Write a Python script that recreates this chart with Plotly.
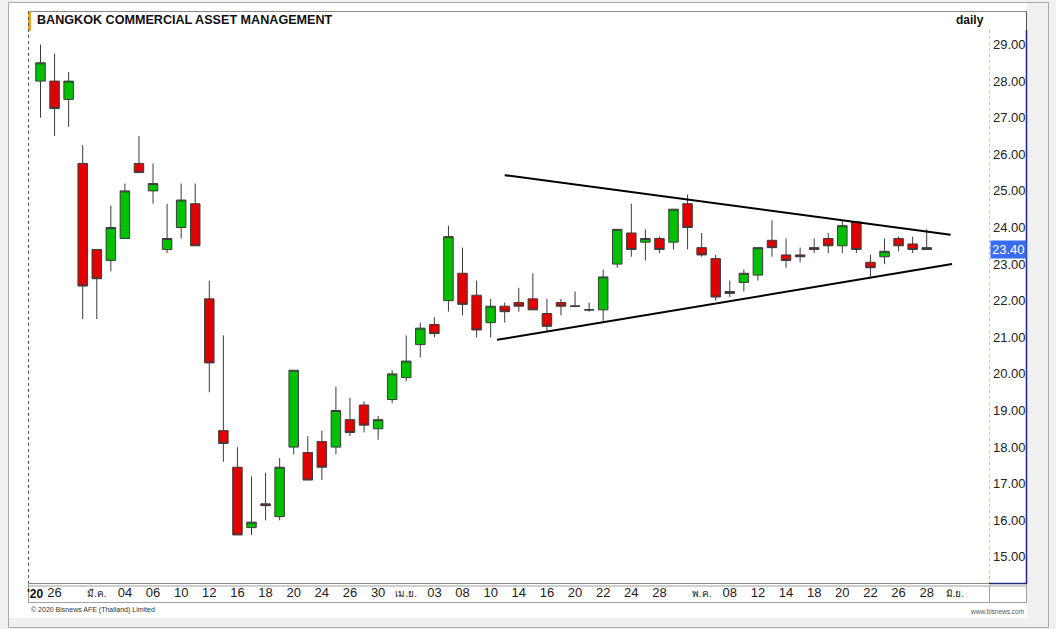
import plotly.graph_objects as go

# ---------------- data ----------------
dates = ["2020-02-25", "2020-02-26", "2020-02-27", "2020-02-28", "2020-03-02", "2020-03-03",
         "2020-03-04", "2020-03-05", "2020-03-06", "2020-03-09", "2020-03-10", "2020-03-11",
         "2020-03-12", "2020-03-13", "2020-03-16", "2020-03-17", "2020-03-18", "2020-03-19",
         "2020-03-20", "2020-03-23", "2020-03-24", "2020-03-25", "2020-03-26", "2020-03-27",
         "2020-03-30", "2020-03-31", "2020-04-01", "2020-04-02", "2020-04-03", "2020-04-07",
         "2020-04-08", "2020-04-09", "2020-04-10", "2020-04-13", "2020-04-14", "2020-04-15",
         "2020-04-16", "2020-04-17", "2020-04-20", "2020-04-21", "2020-04-22", "2020-04-23",
         "2020-04-24", "2020-04-27", "2020-04-28", "2020-04-29", "2020-04-30", "2020-05-05",
         "2020-05-07", "2020-05-08", "2020-05-11", "2020-05-12", "2020-05-13", "2020-05-14",
         "2020-05-15", "2020-05-18", "2020-05-19", "2020-05-20", "2020-05-21", "2020-05-22",
         "2020-05-25", "2020-05-26", "2020-05-27", "2020-05-28"]

opens = [28.0, 28.0, 27.5, 25.75, 23.4, 23.1, 23.7, 25.75, 25.0, 23.4, 24.0, 24.65,
         22.05, 18.45, 17.45, 15.8, 16.45, 16.1, 18.0, 17.85, 18.15, 18.0, 18.75, 19.15,
         18.5, 19.3, 19.9, 20.8, 21.35, 22.0, 22.75, 22.15, 21.4, 21.85, 21.95, 22.05,
         21.65, 21.95, 21.85, 21.75, 21.75, 23.0, 23.85, 23.6, 23.7, 23.6, 24.65, 23.45,
         23.15, 22.25, 22.5, 22.7, 23.65, 23.25, 23.25, 23.45, 23.7, 23.5, 24.15, 23.05,
         23.2, 23.7, 23.55, 23.45]
highs = [29.0, 28.75, 28.25, 26.25, 23.4, 24.6, 25.2, 26.5, 25.75, 24.65, 25.2, 25.2,
         22.55, 21.05, 18.0, 17.2, 17.3, 17.7, 20.1, 18.3, 18.45, 19.65, 19.35, 19.25,
         18.85, 20.1, 21.05, 21.4, 21.55, 24.05, 23.45, 22.55, 22.05, 21.95, 22.35, 22.75,
         22.05, 22.05, 22.25, 21.95, 22.85, 23.95, 24.65, 23.95, 23.75, 24.5, 24.9, 23.85,
         23.25, 22.55, 22.85, 23.45, 24.2, 23.7, 23.45, 23.7, 23.85, 24.2, 24.15, 23.25,
         23.7, 23.75, 23.75, 23.95]
lows = [27.0, 26.5, 26.75, 21.5, 21.5, 22.8, 23.7, 25.5, 24.65, 23.3, 23.7, 23.5,
        19.5, 17.6, 15.6, 15.6, 16.0, 16.0, 17.8, 17.1, 17.1, 17.8, 18.3, 18.4,
        18.2, 19.2, 19.8, 20.45, 21.0, 21.7, 21.6, 21.0, 21.0, 21.4, 21.7, 21.75,
        21.15, 21.6, 21.85, 21.7, 21.45, 22.9, 23.2, 23.1, 23.3, 23.4, 23.4, 23.2,
        22.0, 22.1, 22.25, 22.55, 23.2, 22.9, 23.05, 23.3, 23.3, 23.3, 23.3, 22.6,
        23.0, 23.35, 23.3, 23.4]
closes = [28.5, 27.25, 28.0, 22.4, 22.6, 24.0, 25.0, 25.5, 25.2, 23.7, 24.75, 23.5,
          20.3, 18.1, 15.6, 15.95, 16.4, 17.45, 20.1, 17.1, 17.45, 19.0, 18.4, 18.6,
          18.75, 20.0, 20.35, 21.25, 21.1, 23.75, 21.9, 21.2, 21.85, 21.7, 21.85, 21.75,
          21.3, 21.85, 21.85, 21.75, 22.65, 23.95, 23.4, 23.7, 23.4, 24.5, 24.0, 23.25,
          22.1, 22.2, 22.75, 23.45, 23.45, 23.1, 23.2, 23.4, 23.5, 24.05, 23.4, 22.9,
          23.35, 23.5, 23.4, 23.4]

tick_pos = [1, 4, 6, 8, 10, 12, 14, 16, 18, 20, 22, 24, 26, 28, 30, 32, 34, 36, 38, 40,
            42, 44, 47, 49, 51, 53, 55, 57, 59, 61, 63, 65]
tick_text = ["26", "มี.ค.", "04", "06", "10", "12", "16", "18", "20", "24", "26", "30",
             "เม.ย.", "03", "08", "10", "14", "16", "20", "22", "24", "28", "พ.ค.", "08",
             "12", "14", "18", "20", "22", "26", "28", "มิ.ย."]
month_labels = ["มี.ค.", "เม.ย.", "พ.ค.", "มิ.ย."]

price_ticks = [15, 16, 17, 18, 19, 20, 21, 22, 23, 24, 25, 26, 27, 28, 29]

# triangle trend lines (index, price)
upper_x = [33.0, 64.7]
upper_y = [25.43, 23.80]
lower_x = [32.45, 64.8]
lower_y = [20.93, 23.00]

# ---------------- layout helpers ----------------
W, H = 1056, 629
PL, PR, PT, PB = 28, 989, 11, 583


def px(x):
    return (x - PL) / (PR - PL)


def py(y):
    return (PB - y) / (PB - PT)


xs = list(range(len(dates)))
doji = [i for i in xs if opens[i] == closes[i]]
normal = [i for i in xs if opens[i] != closes[i]]

WICK = "#3c3c3c"
fig = go.Figure()
fig.add_trace(go.Candlestick(
    x=[xs[i] for i in normal],
    open=[opens[i] for i in normal], high=[highs[i] for i in normal],
    low=[lows[i] for i in normal], close=[closes[i] for i in normal],
    increasing=dict(fillcolor="#00c000", line=dict(color=WICK, width=1)),
    decreasing=dict(fillcolor="#e00000", line=dict(color=WICK, width=1)),
    whiskerwidth=0, showlegend=False, hoverinfo="skip"))
fig.add_trace(go.Candlestick(
    x=[xs[i] for i in doji],
    open=[opens[i] for i in doji], high=[highs[i] for i in doji],
    low=[lows[i] for i in doji], close=[closes[i] for i in doji],
    increasing=dict(fillcolor="#333333", line=dict(color="#333333", width=1)),
    decreasing=dict(fillcolor="#333333", line=dict(color="#333333", width=1)),
    whiskerwidth=0, showlegend=False, hoverinfo="skip"))

for tx, ty in ((upper_x, upper_y), (lower_x, lower_y)):
    fig.add_trace(go.Scatter(x=tx, y=ty, mode="lines",
                             line=dict(color="#000000", width=2),
                             showlegend=False, hoverinfo="skip"))

y_top = 29 + (44.5 - PT) / 36.6
y_bot = 29 - (PB - 44.5) / 36.6
x_left = (PL - 40.5) / 14.067
x_right = (PR - 40.5) / 14.067

shapes = []


def rect(x0, y0, x1, y1, fill=None, line=None, lw=1, layer="below"):
    shapes.append(dict(type="rect", xref="paper", yref="paper",
                       x0=px(x0), x1=px(x1), y0=py(y0), y1=py(y1),
                       fillcolor=fill if fill else "rgba(0,0,0,0)",
                       line=dict(color=line if line else "rgba(0,0,0,0)", width=lw if line else 0),
                       layer=layer))


def hline(x0, x1, y, color, lw=1, dash="solid", layer="above"):
    shapes.append(dict(type="line", xref="paper", yref="paper",
                       x0=px(x0), x1=px(x1), y0=py(y), y1=py(y),
                       line=dict(color=color, width=lw, dash=dash), layer=layer))


def vline(x, y0, y1, color, lw=1, dash="solid", layer="above"):
    shapes.append(dict(type="line", xref="paper", yref="paper",
                       x0=px(x), x1=px(x), y0=py(y0), y1=py(y1),
                       line=dict(color=color, width=lw, dash=dash), layer=layer))


# card and frame
rect(9, 3, 1027, 618, fill="#ffffff")
rect(8.5, 2.5, 1048.5, 627.5, line="#a9a9a9")
# header
hline(28, 1027, 11.5, "#8a8a8a")
rect(28, 11, 31, 31, fill="#f5a31a", layer="above")
# left dotted border
vline(28.5, 11, 583, "#555555", dash="dot")
# price axis
vline(989.5, 30, 583, "#d8c275", dash="dot")
vline(1026.5, 11, 30, "#555555")
vline(1026.5, 30, 584, "#1d2b7d", lw=1.5)
hline(989, 1027, 583.5, "#1d2b7d", lw=1.5)
# x-axis band
hline(28, 989, 583.5, "#8a8a8a")
hline(28, 1027, 586, "#a0a0a0")
hline(28, 1027, 602.5, "#a0a0a0")
vline(28.5, 583, 602, "#a0a0a0")
vline(989.5, 586, 602, "#a0a0a0")
vline(1026.5, 584, 602, "#a0a0a0")

FONT = "Liberation Sans, Arial, sans-serif"
annotations = [
    dict(text="<b>BANGKOK COMMERCIAL ASSET MANAGEMENT</b>", x=px(35), y=py(20.5),
         xref="paper", yref="paper", xanchor="left", yanchor="middle", showarrow=False,
         font=dict(family=FONT, size=12.6, color="#111111")),
    dict(text="<b>daily</b>", x=px(986), y=py(20.5), xref="paper", yref="paper",
         xanchor="right", yanchor="middle", showarrow=False,
         font=dict(family=FONT, size=12, color="#111111")),
    dict(text="<b>'20</b>", x=px(46), y=py(594), xref="paper", yref="paper",
         xanchor="right", yanchor="middle", showarrow=False,
         font=dict(family=FONT, size=12, color="#111111")),
    dict(text="© 2020 Bisnews AFE (Thailand) Limited", x=px(29), y=py(609.5),
         xref="paper", yref="paper", xanchor="left", yanchor="middle", showarrow=False,
         font=dict(family=FONT, size=7, color="#333333")),
    dict(text="www.bisnews.com", x=px(1026), y=py(611), xref="paper", yref="paper",
         xanchor="right", yanchor="middle", showarrow=False,
         font=dict(family=FONT, size=6.5, color="#555555")),
    dict(text="%.2f" % closes[-1], x=px(990), y=closes[-1], xref="paper", yref="y",
         xanchor="left", yanchor="middle", showarrow=False, bgcolor="#3a6cf2",
         borderpad=1, font=dict(family=FONT, size=13, color="#ffffff")),
]

tick_labels = ["<span style='font-size:10px'>%s</span>" % t if t in month_labels else t
               for t in tick_text]

fig.update_layout(
    width=W, height=H,
    margin=dict(l=PL, r=W - PR, t=PT, b=H - PB, pad=0),
    paper_bgcolor="#f0f0f0", plot_bgcolor="#ffffff",
    boxgap=0.325, boxgroupgap=0,
    shapes=shapes, annotations=annotations,
    font=dict(family=FONT, color="#222222"),
    xaxis=dict(range=[x_left, x_right], rangeslider=dict(visible=False),
               tickmode="array", tickvals=tick_pos, ticktext=tick_labels,
               showgrid=False, zeroline=False, showline=False,
               ticks="", ticklabelstandoff=0,
               tickfont=dict(family=FONT, size=13, color="#222222")),
    yaxis=dict(range=[y_bot, y_top], side="right", tickmode="array",
               tickvals=price_ticks, ticktext=["%.2f" % v for v in price_ticks],
               showgrid=False, zeroline=False, showline=False, ticks="",
               ticklabelstandoff=3,
               tickfont=dict(family=FONT, size=13, color="#222222")),
)

fig.write_html("out.html")
